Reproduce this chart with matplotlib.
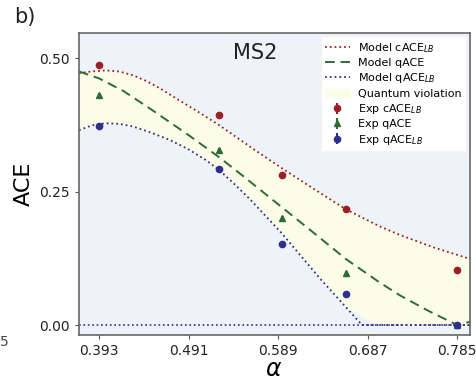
import numpy as np
import matplotlib.pyplot as plt

# model curves
alpha_c = [0.371, 0.385, 0.40, 0.415, 0.43, 0.445, 0.46, 0.476, 0.50, 0.524, 0.545, 0.56, 0.593,
           0.63, 0.663, 0.70, 0.722, 0.76, 0.799]
model_c = [0.472, 0.475, 0.477, 0.475, 0.468, 0.457, 0.443, 0.426, 0.401, 0.375, 0.350, 0.332, 0.294,
           0.253, 0.217, 0.185, 0.169, 0.145, 0.124]

alpha_q = [0.371, 0.393, 0.42, 0.45, 0.49, 0.524, 0.55, 0.59, 0.63, 0.663, 0.70, 0.722, 0.752, 0.785, 0.799]
model_q = [0.475, 0.462, 0.438, 0.404, 0.357, 0.315, 0.280, 0.225, 0.170, 0.124, 0.080, 0.056, 0.028, 0.0, 0.006]

alpha_lb = [0.371, 0.385, 0.40, 0.415, 0.43, 0.449, 0.47, 0.49, 0.51, 0.524, 0.54, 0.558, 0.575,
            0.593, 0.635, 0.681, 0.74, 0.799]
model_lb = [0.365, 0.374, 0.378, 0.377, 0.372, 0.361, 0.347, 0.330, 0.309, 0.291, 0.266, 0.236, 0.205,
            0.172, 0.087, 0.0, 0.0, 0.0]

# experiment
alpha_exp = [0.393, 0.524, 0.593, 0.663, 0.785]
exp_c = [0.487, 0.393, 0.281, 0.217, 0.103]
exp_q = [0.431, 0.328, 0.200, 0.097, 0.0]
exp_lb = [0.373, 0.292, 0.152, 0.058, 0.0]

xticks = [0.393, 0.491, 0.589, 0.687, 0.785]
yticks = [0.0, 0.25, 0.5]

red = '#9c1f24'
green = '#2f6a35'
blue = '#2e2f8c'

fig = plt.figure(figsize=(4.76, 3.8), dpi=100)
ax = fig.add_axes([0.166, 0.118, 0.821, 0.795])
ax.set_facecolor('#eef3fa')

ax.plot(alpha_c, model_c, ':', color=red, lw=1.3, label=r'Model cACE$_{LB}$')
ax.plot(alpha_q, model_q, '--', color=green, lw=1.4, dashes=(5, 3), label='Model qACE')
ax.plot(alpha_lb, model_lb, ':', color=blue, lw=1.3, label=r'Model qACE$_{LB}$')
ax.axhline(0, color=blue, ls=':', lw=1.2)

# fill between the two bounds (blue resampled on red's grid for the fill only)
lb_on_c = np.interp(alpha_c, alpha_lb, model_lb)
ax.fill_between(alpha_c, lb_on_c, model_c, color='#fcfde9', label='Quantum violation', zorder=0.5)

ax.errorbar(alpha_exp, exp_c, yerr=0.004, fmt='o', color=red, ms=4.5, label=r'Exp cACE$_{LB}$')
ax.errorbar(alpha_exp, exp_q, yerr=0.004, fmt='^', color=green, ms=5, label='Exp qACE')
ax.errorbar(alpha_exp, exp_lb, yerr=0.004, fmt='o', color=blue, ms=4.5, label=r'Exp qACE$_{LB}$')

ax.set_xlim(0.371, 0.799)
ax.set_ylim(-0.019, 0.547)
ax.set_xticks(xticks)
ax.set_xticklabels(['%.3f' % t for t in xticks])
ax.set_yticks(yticks)
ax.set_yticklabels(['%.2f' % t for t in yticks])
ax.tick_params(labelsize=10, colors='#555555', labelcolor='#222222', length=3)
for s in ax.spines.values():
    s.set_color('#666666')
    s.set_linewidth(1.2)

ax.set_xlabel('α', fontsize=17, fontstyle='italic', va='center')
ax.xaxis.set_label_coords(0.497, -0.112)
ax.set_ylabel('ACE', fontsize=16, labelpad=4)

ax.text(0.45, 0.935, 'MS2', transform=ax.transAxes, ha='center', va='center', fontsize=15, color='#222222')

leg = ax.legend(loc='upper right', fontsize=8, frameon=True, fancybox=False,
                borderpad=0.4, labelspacing=0.3, handlelength=2.2, handletextpad=0.8,
                borderaxespad=0.3)
leg.get_frame().set_edgecolor('#f4f4f4')
leg.get_frame().set_facecolor('white')
leg.get_frame().set_alpha(1)

fig.text(0.03, 0.955, 'b)', fontsize=15, va='center', color='#222222')
fig.text(0.0, 0.1, '5', fontsize=10, va='center', color='#444444')

fig.savefig('out.png', dpi=100)
